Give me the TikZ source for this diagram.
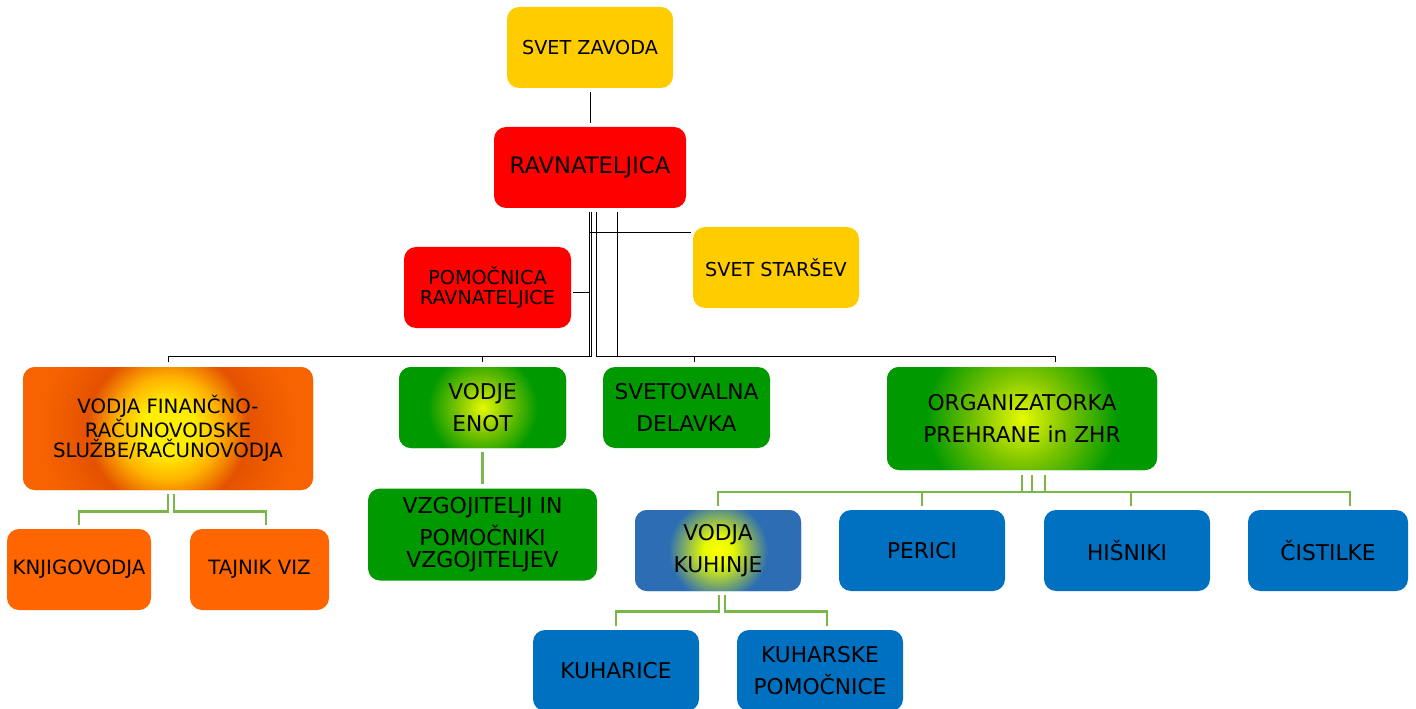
\documentclass[tikz,border=0pt]{standalone}
\usepackage{fontspec}
\setmainfont{DejaVu Sans}

\definecolor{zavodyellow}{HTML}{FFCC00}
\definecolor{ravred}{HTML}{FF0000}
\definecolor{finorange}{HTML}{FF6600}
\definecolor{finedge}{HTML}{F76300}
\definecolor{finring}{HTML}{E45200}
\definecolor{enotgreen}{HTML}{009900}
\definecolor{kuhblue}{HTML}{0070C0}
\definecolor{vodjablue}{HTML}{2C6DB4}
\definecolor{linegreen}{HTML}{7AB648}
\definecolor{glowyellow}{HTML}{FFEE00}
\definecolor{glowamber}{HTML}{FFB400}
\definecolor{glowlime}{HTML}{E6FA00}
\definecolor{glowmid}{HTML}{7CC400}

\pgfdeclareradialshading{finglow}{\pgfpoint{0bp}{0bp}}{color(0bp)=(glowyellow); color(4bp)=(glowyellow); color(8bp)=(glowamber); color(12.5bp)=(finring); color(20bp)=(finedge); color(50bp)=(finedge)}
\pgfdeclareradialshading{enotglow}{\pgfpoint{0bp}{0bp}}{color(0bp)=(glowlime); color(4bp)=(glowmid); color(8.6bp)=(enotgreen); color(50bp)=(enotgreen)}
\pgfdeclareradialshading{orgglow}{\pgfpoint{0bp}{0bp}}{color(0bp)=(glowlime); color(7bp)=(glowmid); color(15bp)=(enotgreen); color(50bp)=(enotgreen)}
\pgfdeclareradialshading{kuhglow}{\pgfpoint{0bp}{0bp}}{color(0bp)=(yellow); color(2.3bp)=(glowlime); color(7.8bp)=(vodjablue); color(50bp)=(vodjablue)}

\begin{document}
\begin{tikzpicture}[x=0.75pt, y=-0.75pt]
				\tikzstyle{box}=[rounded corners=9pt, inner sep=0pt, align=center, text=black]
				\tikzstyle{smalltxt}=[font=\fontsize{14.4}{15.5}\selectfont]
				\tikzstyle{bigtxt}=[font=\fontsize{16.3}{24}\selectfont]
				\tikzstyle{blk}=[draw=black, line width=0.75pt]
				\tikzstyle{grn}=[draw=linegreen, line width=1.7pt]
				\tikzstyle{glow}=[path picture={\shade[shading=#1] (path picture bounding box.center) circle (120pt);}]

				\clip (0,0) rectangle (1416,709);

				\node (zavod) [box, smalltxt, fill=zavodyellow, minimum width=124.5pt, minimum height=60.75pt] at (590,47.5) {SVET ZAVODA};
				\node (rav) [box, font=\fontsize{17}{20}\selectfont, fill=ravred, minimum width=144pt, minimum height=60.75pt] at (590,167.5) {RAVNATELJICA};
				\node (pom) [box, smalltxt, fill=ravred, minimum width=125.25pt, minimum height=60.75pt] at (487.5,287.5) {POMOČNICA\\RAVNATELJICE};
				\node (starsev) [box, smalltxt, fill=zavodyellow, minimum width=124.5pt, minimum height=60.75pt] at (776,267.5) {SVET STARŠEV};

				\node (fin) [box, font=\fontsize{14.8}{15.3}\selectfont, fill=finedge, glow=finglow, minimum width=217.5pt, minimum height=92.25pt] at (168,428.5) {VODJA FINANČNO-\\RAČUNOVODSKE\\SLUŽBE/RAČUNOVODJA};
				\node (enot) [box, bigtxt, fill=enotgreen, glow=enotglow, minimum width=125.25pt, minimum height=60.75pt] at (482.5,407.5) {VODJE\\ENOT};
				\node (svetov) [box, bigtxt, fill=enotgreen, minimum width=125.25pt, minimum height=60.75pt] at (686.5,407.5) {SVETOVALNA\\DELAVKA};
				\node (org) [box, bigtxt, fill=enotgreen, glow=orgglow, minimum width=202.5pt, minimum height=77.25pt] at (1022,418.5) {ORGANIZATORKA\\PREHRANE in ZHR};

				\node (knj) [box, font=\fontsize{14.8}{16}\selectfont, fill=finorange, minimum width=108pt, minimum height=60.75pt] at (79,569.5) {KNJIGOVODJA};
				\node (taj) [box, font=\fontsize{14.8}{16}\selectfont, fill=finorange, minimum width=104.25pt, minimum height=60.75pt] at (259.5,569.5) {TAJNIK VIZ};
				\node (vzg) [box, font=\fontsize{16.5}{16.5}\selectfont, fill=enotgreen, minimum width=171.75pt, minimum height=69pt] at (482.5,534.5) {VZGOJITELJI IN\\[5pt]POMOČNIKI\\VZGOJITELJEV};

				\node (kuh) [box, bigtxt, fill=vodjablue, glow=kuhglow, minimum width=124.5pt, minimum height=60.75pt] at (718,550.5) {VODJA\\KUHINJE};
				\node (perici) [box, bigtxt, fill=kuhblue, minimum width=124.5pt, minimum height=60.75pt] at (922,550.5) {PERICI};
				\node (hisn) [box, bigtxt, fill=kuhblue, minimum width=124.5pt, minimum height=60.75pt] at (1127,550.5) {HIŠNIKI};
				\node (cist) [box, bigtxt, fill=kuhblue, minimum width=120pt, minimum height=60.75pt] at (1328,550.5) {ČISTILKE};
				\node (kuharice) [box, bigtxt, fill=kuhblue, minimum width=124.5pt, minimum height=60.75pt] at (616,670.5) {KUHARICE};
				\node (kuhpom) [box, bigtxt, fill=kuhblue, minimum width=124.5pt, minimum height=60.75pt] at (820,670.5) {KUHARSKE\\POMOČNICE};

				\coordinate (bus) at (0,356.5);
				\coordinate (finbus) at (0,511.5);
				\coordinate (orgbus) at (0,492);
				\coordinate (kuhbus) at (0,611.5);
				\coordinate (s1) at ([xshift=-0.4pt, yshift=-2.5pt]rav.south);
				\coordinate (s2) at ([xshift=0.75pt, yshift=-2.5pt]rav.south);
				\coordinate (s3) at ([xshift=4.5pt, yshift=-2.5pt]rav.south);
				\coordinate (s4) at ([xshift=20.25pt, yshift=-2.5pt]rav.south);

				\draw[blk] ([yshift=-3pt]zavod.south) -- ([yshift=3pt]rav.north);
				\draw[blk] (s1) |- ([xshift=1.5pt, yshift=-4pt]pom.east);
				\draw[blk] (s1) |- ([xshift=-1.5pt, yshift=26.6pt]starsev.west);
				\draw[blk] (s1) |- (fin.north |- bus) -- ([yshift=3.5pt]fin.north);
				\draw[blk] (s2) |- (enot.north |- bus) -- ([yshift=3.5pt]enot.north);
				\draw[blk] (s3) |- ([xshift=6pt]svetov.north |- bus) -- ([xshift=6pt, yshift=3.5pt]svetov.north);
				\draw[blk] (s4) |- ([xshift=25pt]org.north |- bus) -- ([xshift=25pt, yshift=3.5pt]org.north);

				\draw[grn] ([yshift=-2.5pt]fin.south) |- (knj.north |- finbus) -- ([yshift=3pt]knj.north);
				\draw[grn] ([xshift=4.3pt, yshift=-2.5pt]fin.south) |- ([xshift=4.9pt]taj.north |- finbus) -- ([xshift=4.9pt, yshift=3pt]taj.north);
				\draw[grn] ([yshift=-3pt]enot.south) -- ([yshift=3pt]vzg.north);
				\draw[grn] ([yshift=-3.5pt]org.south) |- (kuh.north |- orgbus) -- ([yshift=3pt]kuh.north);
				\draw[grn] ([xshift=7.5pt, yshift=-3.5pt]org.south) |- (perici.north |- orgbus) -- ([yshift=3pt]perici.north);
				\draw[grn] ([xshift=7.5pt, yshift=-3.5pt]org.south) |- ([xshift=3pt]hisn.north |- orgbus) -- ([xshift=3pt, yshift=3pt]hisn.north);
				\draw[grn] ([xshift=17.25pt, yshift=-3.5pt]org.south) |- ([xshift=16.5pt]cist.north |- orgbus) -- ([xshift=16.5pt, yshift=3pt]cist.north);
				\draw[grn] ([xshift=0.75pt, yshift=-3pt]kuh.south) |- (kuharice.north |- kuhbus) -- ([yshift=3pt]kuharice.north);
				\draw[grn] ([xshift=5pt, yshift=-3pt]kuh.south) |- ([xshift=5.25pt]kuhpom.north |- kuhbus) -- ([xshift=5.25pt, yshift=3pt]kuhpom.north);
			\end{tikzpicture}
\end{document}
